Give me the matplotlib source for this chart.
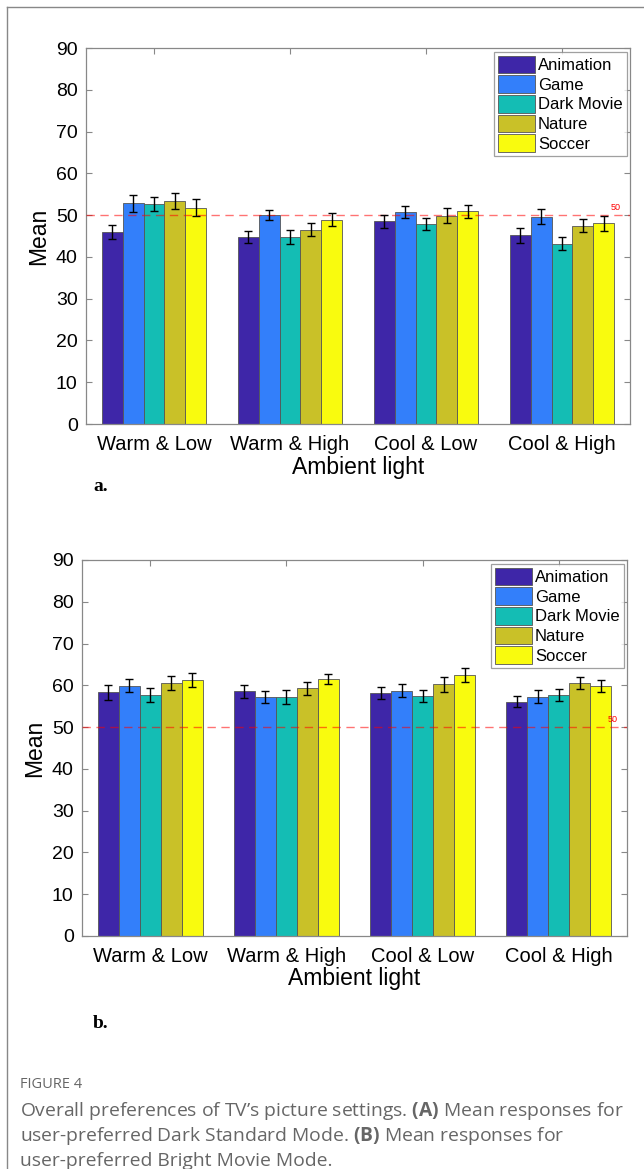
import numpy as np
import matplotlib
matplotlib.use("Agg")
import matplotlib.pyplot as plt
from matplotlib.lines import Line2D

plt.rcParams['font.family'] = ['Liberation Sans', 'DejaVu Sans']
plt.rcParams['mathtext.fontset'] = 'custom'
plt.rcParams['mathtext.rm'] = 'Open Sans'
plt.rcParams['mathtext.bf'] = 'Open Sans:bold'

conditions = ["Warm & Low", "Warm & High", "Cool & Low", "Cool & High"]
genres = ["Animation", "Game", "Dark Movie", "Nature", "Soccer"]
colors = ["#3e26a8", "#337ffa", "#14bdb4", "#c9c128", "#f9fb0e"]

# (a) Dark Standard Mode, rows = genres, cols = conditions
mean_a = [
    [46.0, 44.7, 48.5, 45.2],
    [52.8, 50.0, 50.8, 49.6],
    [52.6, 44.8, 47.9, 43.2],
    [53.3, 46.5, 49.9, 47.5],
    [51.8, 48.9, 50.9, 48.0],
]
err_a = [
    [1.75, 1.45, 1.6, 1.8],
    [2.0, 1.2, 1.5, 1.75],
    [1.7, 1.6, 1.5, 1.45],
    [1.95, 1.6, 1.85, 1.45],
    [2.1, 1.6, 1.6, 1.7],
]

# (b) Bright Movie Mode
mean_b = [
    [58.3, 58.6, 58.2, 56.1],
    [59.9, 57.3, 58.7, 57.3],
    [57.7, 57.3, 57.5, 57.7],
    [60.6, 59.3, 60.3, 60.5],
    [61.3, 61.5, 62.4, 59.9],
]
err_b = [
    [1.7, 1.55, 1.5, 1.4],
    [1.6, 1.45, 1.6, 1.5],
    [1.65, 1.7, 1.5, 1.4],
    [1.7, 1.55, 1.8, 1.45],
    [1.6, 1.15, 1.7, 1.4],
]

yticks = list(range(0, 100, 10))
ref_value = 50

fig = plt.figure(figsize=(6.44, 11.69), dpi=100)


def draw_panel(ax, means, errs):
    x = np.arange(1, len(conditions) + 1)
    w = 0.154
    for i, g in enumerate(genres):
        off = (i - 2) * w
        ax.bar(x + off, means[i], width=w, color=colors[i], edgecolor="#555555",
               linewidth=0.6, label=g, zorder=2)
        ax.errorbar(x + off, means[i], yerr=errs[i], fmt="none", ecolor="black",
                    elinewidth=1.0, capsize=3, capthick=1.0, zorder=4)
    ax.axhline(ref_value, color="red", linestyle=(0, (6, 4)), linewidth=1.0,
               alpha=0.55, zorder=3)
    ax.text(4.43, ref_value + 0.8, "50", color="red", fontsize=6.5,
            ha="right", va="bottom")
    ax.set_xlim(0.5, 4.5)
    ax.set_ylim(0, 90)
    ax.set_yticks(yticks)
    ax.set_xticks(x)
    ax.set_xticklabels(conditions, fontsize=14.5)
    ax.tick_params(axis="y", labelsize=14)
    ax.tick_params(axis="x", pad=8)
    ax.tick_params(direction="in", top=True, right=True, length=4,
                   color="#888888")
    ax.tick_params(axis="y", pad=6)
    for s in ax.spines.values():
        s.set_color("#888888")
        s.set_linewidth(0.9)
    ax.set_ylabel("Mean", fontsize=16.5, labelpad=4)
    ax.set_xlabel("Ambient light", fontsize=16.5, labelpad=1)
    leg = ax.legend(loc="upper right", bbox_to_anchor=(0.997, 0.995),
                    fontsize=12, frameon=True, fancybox=False,
                    borderpad=0.25, labelspacing=0.12, handlelength=2.2,
                    handleheight=1.25, handletextpad=0.2, borderaxespad=0.1)
    leg.get_frame().set_edgecolor("#888888")
    leg.get_frame().set_linewidth(0.9)


ax1 = fig.add_axes([86 / 644, 1 - 424 / 1169, 544 / 644, 376 / 1169])
draw_panel(ax1, mean_a, err_a)

ax2 = fig.add_axes([82 / 644, 1 - 936 / 1169, 545 / 644, 376 / 1169])
draw_panel(ax2, mean_b, err_b)

# panel tags
fig.text(93 / 644, 1 - 487 / 1169, "a.", fontsize=14, fontweight="bold",
         family="Liberation Serif", va="center")
fig.text(93 / 644, 1 - 1023 / 1169, "b.", fontsize=14, fontweight="bold",
         family="Liberation Serif", va="center")

# page frame
fig.add_artist(Line2D([7 / 644, 7 / 644], [0, 1 - 7 / 1169], transform=fig.transFigure,
                      color="#888888", linewidth=1.0))
fig.add_artist(Line2D([7 / 644, 1], [1 - 7 / 1169, 1 - 7 / 1169], transform=fig.transFigure,
                      color="#888888", linewidth=1.0))

# caption
grey = "#666666"
fig.text(20 / 644, 1 - 1085 / 1169, "FIGURE 4", fontsize=10.5, color=grey,
         family="Open Sans", va="center")
fig.text(20 / 644, 1 - 1111 / 1169,
         r"Overall preferences of TV’s picture settings. $\bf{(A)}$ Mean responses for",
         fontsize=13.9, color=grey, family="Open Sans", va="center")
fig.text(20 / 644, 1 - 1136 / 1169,
         r"user-preferred Dark Standard Mode. $\bf{(B)}$ Mean responses for",
         fontsize=13.9, color=grey, family="Open Sans", va="center")
fig.text(20 / 644, 1 - 1161 / 1169, "user-preferred Bright Movie Mode.",
         fontsize=13.9, color=grey, family="Open Sans", va="center")

fig.savefig("out.png", dpi=100)
